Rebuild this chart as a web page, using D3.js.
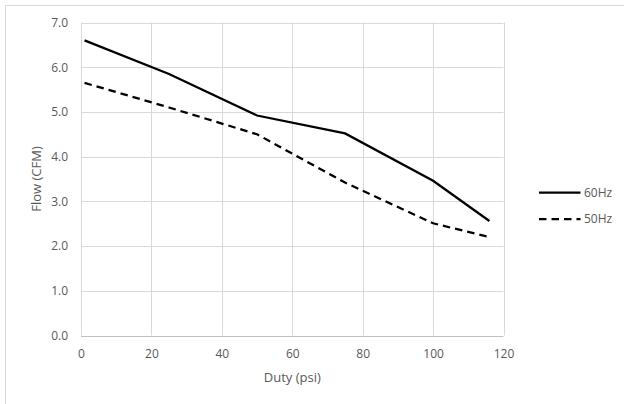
<!DOCTYPE html>
<html>
<head>
<meta charset="utf-8">
<script src="https://cdn.jsdelivr.net/npm/d3@7"></script>
<style>
  body { margin: 0; background: #fff; }
  text { font-family: "Open Sans", "Liberation Sans", sans-serif; fill: #595959; }
</style>
</head>
<body>
<div id="chart"></div>
<script>
// data
var duty = [1, 25, 50, 75, 100, 116];
var flow60 = [6.6, 5.85, 4.92, 4.52, 3.46, 2.56];
var flow50 = [5.65, 5.1, 4.5, 3.42, 2.51, 2.2];
var seriesNames = ['60Hz', '50Hz'];
var xTicks = [0, 20, 40, 60, 80, 100, 120];
var yTicks = [0, 1, 2, 3, 4, 5, 6, 7];

var width = 624,
	height = 404,
	margin = { top: 22.5, left: 81, bottom: 68.5, right: 120.5 };

var svg = d3.select('#chart')
	.append('svg')
		.attr('width', width)
		.attr('height', height);

// chart frame
svg.append('rect')
	.attr('x', 5.5).attr('y', 5.5)
	.attr('width', 700).attr('height', 500)
	.attr('fill', 'none')
	.attr('stroke', '#d9d9d9');

var x = d3.scaleLinear().domain([0, 120]).range([margin.left, width - margin.right]);
var y = d3.scaleLinear().domain([0, 7]).range([height - margin.bottom, margin.top]);

// grid
svg.append('g').selectAll('line.v')
	.data(xTicks).enter()
	.append('line')
		.attr('x1', function(d){ return Math.round(x(d)) + 0.5; })
		.attr('x2', function(d){ return Math.round(x(d)) + 0.5; })
		.attr('y1', y(7)).attr('y2', y(0))
		.attr('stroke', '#d9d9d9').attr('stroke-width', 1);

svg.append('g').selectAll('line.h')
	.data(yTicks).enter()
	.append('line')
		.attr('y1', function(d){ return Math.round(y(d)) + 0.5; })
		.attr('y2', function(d){ return Math.round(y(d)) + 0.5; })
		.attr('x1', x(0)).attr('x2', x(120))
		.attr('stroke', function(d){ return d === 0 ? '#bfbfbf' : '#d9d9d9'; })
		.attr('stroke-width', 1);

// axes (labels only)
var xAxis = svg.append('g')
	.attr('transform', 'translate(0,' + y(0) + ')')
	.call(d3.axisBottom(x).tickValues(xTicks).tickSize(0).tickPadding(14));
var yAxis = svg.append('g')
	.attr('transform', 'translate(' + x(0) + ',0)')
	.call(d3.axisLeft(y).tickValues(yTicks).tickFormat(d3.format('.1f')).tickSize(0).tickPadding(13));
[xAxis, yAxis].forEach(function(a){
	a.select('.domain').remove();
	a.selectAll('text').style('font-size', '12px').attr('fill', '#595959')
		.style('font-family', '"Open Sans", sans-serif');
});

// axis titles
svg.append('text')
	.attr('x', (x(0) + x(120)) / 2).attr('y', 382)
	.attr('text-anchor', 'middle')
	.style('font-size', '13px')
	.text('Duty (psi)');
svg.append('text')
	.attr('transform', 'translate(41,' + (y(0) + y(7)) / 2 + ') rotate(-90)')
	.attr('text-anchor', 'middle')
	.style('font-size', '13px')
	.text('Flow (CFM)');

// lines
var series = [flow60, flow50];
var dashes = [null, '7.5,5'];
var line = d3.line()
	.x(function(d, i){ return x(duty[i]); })
	.y(function(d){ return y(d); });

svg.selectAll('.series')
	.data(series).enter()
	.append('path')
		.attr('class', 'series')
		.attr('d', line)
		.attr('fill', 'none')
		.attr('stroke', '#000')
		.attr('stroke-width', 2.25)
		.attr('stroke-dasharray', function(d, i){ return dashes[i]; });

// legend
var legend = svg.selectAll('.legend')
	.data(seriesNames).enter()
	.append('g')
		.attr('class', 'legend')
		.attr('transform', function(d, i){ return 'translate(539,' + (192.5 + i * 26.5) + ')'; });
legend.append('line')
	.attr('x1', 0).attr('x2', 41.5)
	.attr('stroke', '#000').attr('stroke-width', 2.25)
	.attr('stroke-dasharray', function(d, i){ return dashes[i]; });
legend.append('text')
	.attr('x', 45).attr('dy', '0.35em')
	.style('font-size', '12px')
	.text(function(d){ return d; });
</script>
</body>
</html>
